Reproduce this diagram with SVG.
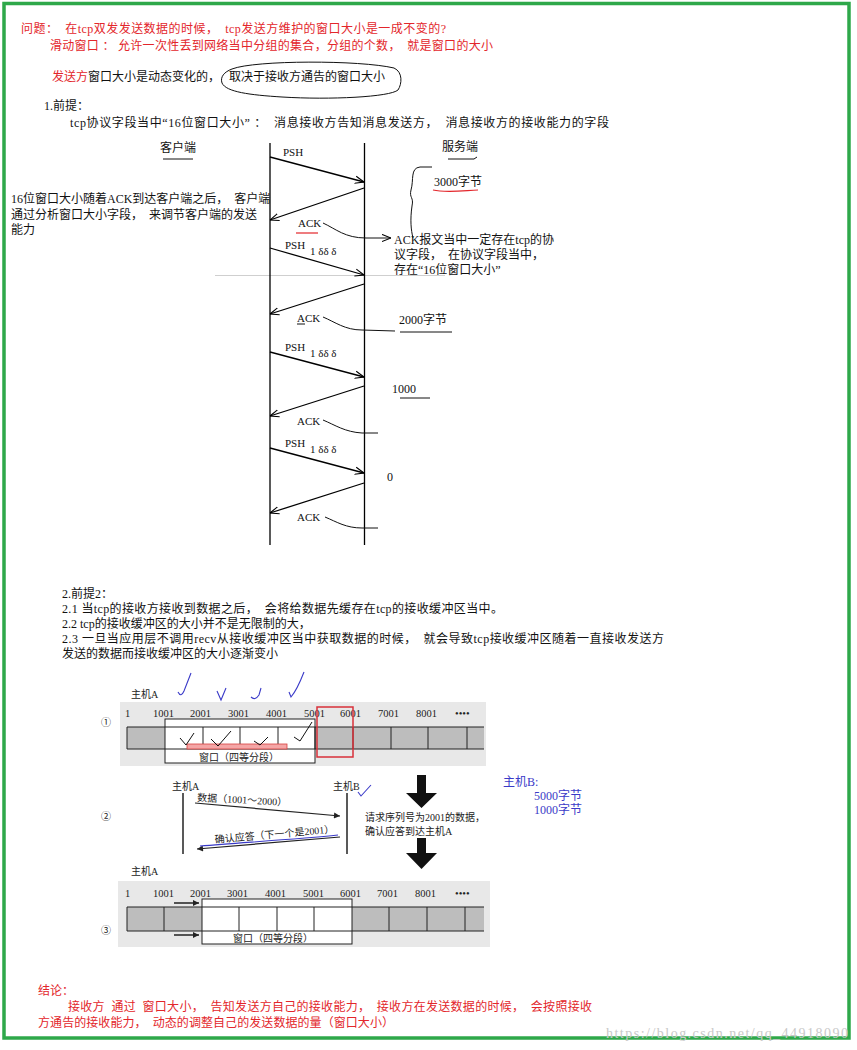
<svg xmlns="http://www.w3.org/2000/svg" width="857" height="1050" viewBox="0 0 857 1050">
<style>
text{font-family:"Liberation Serif","Noto Sans CJK SC",serif;white-space:pre}
.t{font-size:12px;fill:#111}
.r{font-size:12px;fill:#e3262b}
.b{font-size:12px;fill:#3a3ac8}
.q{font-size:11px;fill:#111}
.s{font-size:10px;fill:#222}
.n{font-size:10.5px;fill:#222}
.ln{stroke:#000;stroke-width:1.3;fill:none}
.hand{stroke:#111;stroke-width:1;fill:none}
.bh{stroke:#3a3ac8;stroke-width:1.1;fill:none}
.bg{fill:#e8e8e8}
.strip{fill:#bdbdbd}
.bd{stroke:#222;stroke-width:1;fill:none}
.win{fill:#fff;stroke:#222;stroke-width:1}
.big{fill:#111}
</style>
<defs>
<marker id="open" viewBox="0 0 10 10" refX="10" refY="5" markerWidth="9" markerHeight="9" orient="auto" markerUnits="userSpaceOnUse"><path d="M0,1 L10,5 L0,9" fill="none" stroke="#000" stroke-width="1.2"/></marker>
<marker id="tri" viewBox="0 0 10 10" refX="10" refY="5" markerWidth="7" markerHeight="6" orient="auto" markerUnits="userSpaceOnUse"><path d="M0,0 L10,5 L0,10 Z" fill="#222"/></marker>
</defs>
<rect x="0" y="0" width="857" height="1050" fill="#fff"/>
<rect x="4" y="3.5" width="845" height="1034.5" fill="none" stroke="#2ea84a" stroke-width="3.5"/>

<g id="intro">
<text class="r" x="21" y="33" textLength="425" lengthAdjust="spacing">问题：  在tcp双发发送数据的时候，  tcp发送方维护的窗口大小是一成不变的?</text>
<text class="r" x="50" y="50" textLength="443" lengthAdjust="spacing">滑动窗口 ： 允许一次性丢到网络当中分组的集合，分组的个数，  就是窗口的大小</text>
<text class="t" x="52" y="81"><tspan fill="#e3262b">发送方</tspan>窗口大小是动态变化的，</text>
<text class="t" x="229" y="81">取决于接收方通告的窗口大小</text>
<path class="hand" d="M232,69 C255,60 360,60 394,68 C403,72 402,84 398,90 C390,97 330,100 282,97 C250,95 226,92 222,83 C220,77 224,72 232,69" stroke-width="1.2"/>
<text class="t" x="44" y="110">1.前提：</text>
<text class="t" x="70" y="127" textLength="539" lengthAdjust="spacing">tcp协议字段当中“16位窗口大小” ：  消息接收方告知消息发送方，  消息接收方的接收能力的字段</text>
</g>

<g id="sequence">
<text class="t" x="160" y="152">客户端</text>
<line x1="163" y1="159" x2="193" y2="159" stroke="#111" stroke-width="1"/>
<text class="t" x="442" y="151">服务端</text>
<path class="hand" d="M448,159 L474,159 L477,157"/>
<line x1="215" y1="275.5" x2="445" y2="275.5" stroke="#cfcfcf" stroke-width="1"/>
<line class="ln" x1="270" y1="143" x2="270" y2="545"/>
<line class="ln" x1="364.5" y1="143" x2="364.5" y2="545"/>
<text class="t" x="11" y="203">16位窗口大小随着ACK到达客户端之后，  客户端</text>
<text class="t" x="11" y="219">通过分析窗口大小字段，  来调节客户端的发送</text>
<text class="t" x="11" y="234">能力</text>
<text class="t" x="394" y="244">ACK报文当中一定存在tcp的协</text>
<text class="t" x="394" y="259">议字段，  在协议字段当中，</text>
<text class="t" x="394" y="274">存在“16位窗口大小”</text>
<text class="t" x="434" y="186">3000字节</text>
<path d="M433,190 C445,193 460,191 478,190" stroke="#e3262b" stroke-width="1.2" fill="none"/>
<path class="hand" d="M432,167 L420,167 C410,168 414,180 411,190 C409,198 414,197 412,206 C410,220 411,230 413,238"/>
<text class="t" x="399" y="324">2000字节</text>
<line x1="400" y1="332" x2="452" y2="332" stroke="#111" stroke-width="1"/>
<text class="t" x="392" y="393">1000</text>
<line x1="400" y1="398" x2="430" y2="398" stroke="#111" stroke-width="1"/>
<text class="t" x="387" y="481">0</text>
</g>

<g id="connectors">
<line class="ln" x1="270" y1="157" x2="364" y2="182" marker-end="url(#open)"/>
<line class="ln" x1="364" y1="188" x2="270" y2="220" marker-end="url(#open)"/>
<line class="ln" x1="270" y1="248" x2="364" y2="275" marker-end="url(#open)"/>
<line class="ln" x1="364" y1="284" x2="270" y2="314" marker-end="url(#open)"/>
<line class="ln" x1="270" y1="352" x2="364" y2="377" marker-end="url(#open)"/>
<line class="ln" x1="364" y1="386" x2="270" y2="416" marker-end="url(#open)"/>
<line class="ln" x1="270" y1="448" x2="364" y2="473" marker-end="url(#open)"/>
<line class="ln" x1="364" y1="483" x2="270" y2="513" marker-end="url(#open)"/>
<path class="hand" d="M323,223 C336,229 345,238 366,238 L391,238" marker-end="url(#open)"/>
<path class="hand" d="M323,317 C335,322 345,330 362,330 L395,331"/>
<path class="hand" d="M323,420 C335,425 345,432 362,433 L378,433"/>
<path class="hand" d="M325,517 C337,522 346,528 362,528 L378,528"/>
</g>

<g id="seq-labels">
<text class="q" x="283" y="156">PSH</text>
<text class="q" x="298" y="227">ACK</text>
<line x1="296" y1="233" x2="318" y2="233" stroke="#e3262b" stroke-width="1.2"/>
<text class="q" x="285" y="249">PSH</text><text class="q" x="310" y="255" font-size="9">1 δδ δ</text>
<text class="q" x="297" y="322">ACK</text>
<line x1="297" y1="324" x2="305" y2="324" stroke="#111" stroke-width="1"/>
<text class="q" x="285" y="351">PSH</text><text class="q" x="310" y="357" font-size="9">1 δδ δ</text>
<text class="q" x="297" y="425">ACK</text>
<text class="q" x="285" y="447">PSH</text><text class="q" x="310" y="453" font-size="9">1 δδ δ</text>
<text class="q" x="297" y="521">ACK</text>
</g>

<g id="premise2">
<text class="t" x="62" y="598">2.前提2：</text>
<text class="t" x="62" y="613" textLength="441" lengthAdjust="spacing">2.1 当tcp的接收方接收到数据之后，  会将给数据先缓存在tcp的接收缓冲区当中。</text>
<text class="t" x="62" y="628">2.2 tcp的接收缓冲区的大小并不是无限制的大，</text>
<text class="t" x="62" y="643" textLength="602" lengthAdjust="spacing">2.3 一旦当应用层不调用recv从接收缓冲区当中获取数据的时候，  就会导致tcp接收缓冲区随着一直接收发送方</text>
<text class="t" x="62" y="658">发送的数据而接收缓冲区的大小逐渐变小</text>
</g>

<g id="panel1">
<text class="s" x="101" y="726" fill="#555">①</text>
<text class="s" x="131" y="698">主机A</text>
<rect class="bg" x="120" y="702" width="366" height="64"/>
<text class="n" x="125" y="717">1</text><text class="n" x="153" y="717">1001</text><text class="n" x="190" y="717">2001</text><text class="n" x="228" y="717">3001</text><text class="n" x="266" y="717">4001</text><text class="n" x="304" y="717">5001</text><text class="n" x="340" y="717">6001</text><text class="n" x="378" y="717">7001</text><text class="n" x="416" y="717">8001</text><text class="n" x="455" y="717">••••</text>
<rect class="strip" x="127" y="727" width="357" height="22"/>
<path class="bd" d="M484,727 H127 V749 H484 M353,727 V749 M391,727 V749 M428,727 V749 M467,727 V749"/>
<rect class="win" x="165" y="719" width="150" height="44"/>
<path class="bd" d="M165,727 H315 M165,749 H315 M203,727 V749 M240,727 V749 M278,727 V749 M315,727 V749"/>
<text class="s" x="199" y="761">窗口（四等分段）</text>
<rect x="187" y="744" width="100" height="5" fill="#f4a6a6" stroke="#d8403f" stroke-width="0.8"/>
<rect x="317" y="707" width="36" height="50" fill="none" stroke="#d8303a" stroke-width="1.5"/>
<path class="hand" d="M180,738 L186,745 L194,733"/>
<path class="hand" d="M211,739 L218,746 L231,731"/>
<path class="hand" d="M254,741 L260,745 L268,737"/>
<path class="hand" d="M294,737 L300,741 L312,722"/>
<path class="bh" d="M178,692 Q181,698 184,691 L191,673"/>
<path class="bh" d="M217,691 L221,700 L226,688"/>
<path class="bh" d="M251,697 Q255,701 259,695 L261,688"/>
<path class="bh" d="M289,692 L291,697 Q297,690 304,672"/>
</g>

<g id="panel2">
<text class="s" x="101" y="820" fill="#555">②</text>
<text class="s" x="172" y="790">主机A</text>
<text class="s" x="333" y="790">主机B</text>
<path class="bh" d="M358,792 L361,796 L371,785"/>
<line x1="183" y1="793" x2="183" y2="854" stroke="#222" stroke-width="1.5"/>
<line x1="347" y1="793" x2="347" y2="854" stroke="#222" stroke-width="1.5"/>
<text class="s" x="197" y="801" transform="rotate(3 197 801)">数据（1001～2000）</text>
<line x1="195" y1="803" x2="340" y2="816" stroke="#222" stroke-width="1.2" marker-end="url(#tri)"/>
<text class="s" x="215" y="843" transform="rotate(-5 215 843)">确认应答（下一个是2001）</text>
<line x1="340" y1="837" x2="197" y2="849" stroke="#222" stroke-width="1.2" marker-end="url(#tri)"/>
<path class="bh" d="M200,846 C250,842 300,839 338,835"/>
<text class="s" x="365" y="821">请求序列号为2001的数据，</text>
<text class="s" x="365" y="835">确认应答到达主机A</text>
<polygon class="big" points="417,775 426,775 426,793 437,793 421.5,808 406,793 417,793"/>
<polygon class="big" points="417,838 426,838 426,853 437,853 421.5,869 406,853 417,853"/>
</g>

<g id="hostB-note">
<text class="b" x="503" y="786">主机B:</text>
<text class="b" x="534" y="800">5000字节</text>
<text class="b" x="534" y="814">1000字节</text>
</g>

<g id="panel3">
<text class="s" x="101" y="934" fill="#555">③</text>
<text class="s" x="131" y="875">主机A</text>
<rect class="bg" x="118" y="881" width="372" height="66"/>
<text class="n" x="125" y="897">1</text><text class="n" x="153" y="897">1001</text><text class="n" x="190" y="897">2001</text><text class="n" x="227" y="897">3001</text><text class="n" x="265" y="897">4001</text><text class="n" x="303" y="897">5001</text><text class="n" x="340" y="897">6001</text><text class="n" x="377" y="897">7001</text><text class="n" x="415" y="897">8001</text><text class="n" x="455" y="897">••••</text>
<rect class="strip" x="127" y="907" width="357" height="24"/>
<path class="bd" d="M484,907 H127 V931 H484 M164,907 V931 M389,907 V931 M427,907 V931 M465,907 V931"/>
<rect class="win" x="202" y="899" width="150" height="45"/>
<path class="bd" d="M202,907 H352 M202,931 H352 M239,907 V931 M277,907 V931 M314,907 V931"/>
<text class="s" x="233" y="942">窗口（四等分段）</text>
<line x1="174" y1="903" x2="199" y2="903" stroke="#222" stroke-width="1.5" marker-end="url(#tri)"/>
<line x1="174" y1="935" x2="199" y2="935" stroke="#222" stroke-width="1.5" marker-end="url(#tri)"/>
</g>

<g id="conclusion">
<text class="r" x="38" y="995">结论：</text>
<text class="r" x="68" y="1011" textLength="524" lengthAdjust="spacing">接收方  通过  窗口大小，  告知发送方自己的接收能力，  接收方在发送数据的时候，  会按照接收</text>
<text class="r" x="38" y="1027" textLength="356" lengthAdjust="spacing">方通告的接收能力，  动态的调整自己的发送数据的量（窗口大小）</text>
</g>

<text x="606" y="1038" font-family="Liberation Sans, sans-serif" font-size="14" fill="#c8c8c8" textLength="242">https://blog.csdn.net/qq_44918090</text>
</svg>
